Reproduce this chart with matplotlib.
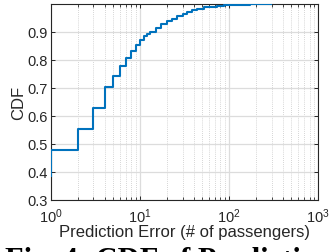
"""CDF of prediction error (# of passengers), log-scale x axis."""

import matplotlib

matplotlib.use("Agg")
import matplotlib.pyplot as plt
from matplotlib.ticker import LogLocator, NullFormatter

# ── data ──────────────────────────────────────────────────────────────────
error_values = [1, 1, 2, 3, 4, 5, 6, 7, 8, 9, 10, 11, 12, 13, 15, 17, 20,
                23, 26, 30, 34, 38, 44, 52, 62, 73, 87, 103, 130, 170, 295]
cdf_values = [0.385, 0.478, 0.553, 0.627, 0.702, 0.741, 0.779, 0.808, 0.833,
              0.854, 0.872, 0.884, 0.893, 0.901, 0.914, 0.928, 0.940,
              0.948, 0.956, 0.964, 0.972, 0.979, 0.984, 0.988, 0.991,
              0.994, 0.995, 0.997, 0.998, 0.999, 1.0]

y_ticks = [0.3, 0.4, 0.5, 0.6, 0.7, 0.8, 0.9]
x_label = "Prediction Error (# of passengers)"
y_label = "CDF"
caption = "Fig. 4: CDF of Prediction"

plt.rcParams["font.family"] = ["Liberation Sans", "DejaVu Sans"]
plt.rcParams["mathtext.fontset"] = "custom"
plt.rcParams["mathtext.rm"] = "Liberation Sans"

fig = plt.figure(figsize=(3.29, 2.53), dpi=100)
ax = fig.add_axes([0.155, 0.207, 0.812, 0.773])

ax.plot(error_values, cdf_values, drawstyle="steps-post",
        color="#0072BD", linewidth=1.5, zorder=3)

ax.set_xscale("log")
ax.set_xlim(1, 1000)
ax.set_ylim(0.3, 1.0)
ax.set_yticks(y_ticks)
ax.set_yticklabels([f"{v:.1f}" for v in y_ticks])
ax.xaxis.set_minor_locator(LogLocator(base=10, subs=range(2, 10)))
ax.xaxis.set_minor_formatter(NullFormatter())

# ── grid ──────────────────────────────────────────────────────────────────
ax.grid(True, which="major", color="#dcdcdc", linewidth=0.9, linestyle="-")
ax.grid(True, which="minor", axis="x", color="#c8c8c8", linewidth=0.6,
        linestyle=(0, (1, 1.5)))
ax.set_axisbelow(True)

# ── ticks / frame ─────────────────────────────────────────────────────────
ax.tick_params(which="both", direction="in", top=True, right=True,
               labelsize=10.5, colors="#262626")
ax.tick_params(axis="x", which="major", pad=5)
ax.tick_params(axis="y", which="major", pad=2)
ax.tick_params(which="major", length=3, width=0.7)
ax.tick_params(which="minor", length=2, width=0.6)
for spine in ax.spines.values():
    spine.set_color("#262626")
    spine.set_linewidth(0.8)

ax.set_xlabel(x_label, fontsize=12, labelpad=-1, color="#262626")
ax.set_ylabel(y_label, fontsize=12, labelpad=1, color="#262626")

fig.text(0.015, 1 - 246.5 / 253, caption, fontsize=22, fontweight="bold",
         family=["Liberation Serif", "DejaVu Serif"], va="top", ha="left")

fig.savefig("out.png", dpi=100)
